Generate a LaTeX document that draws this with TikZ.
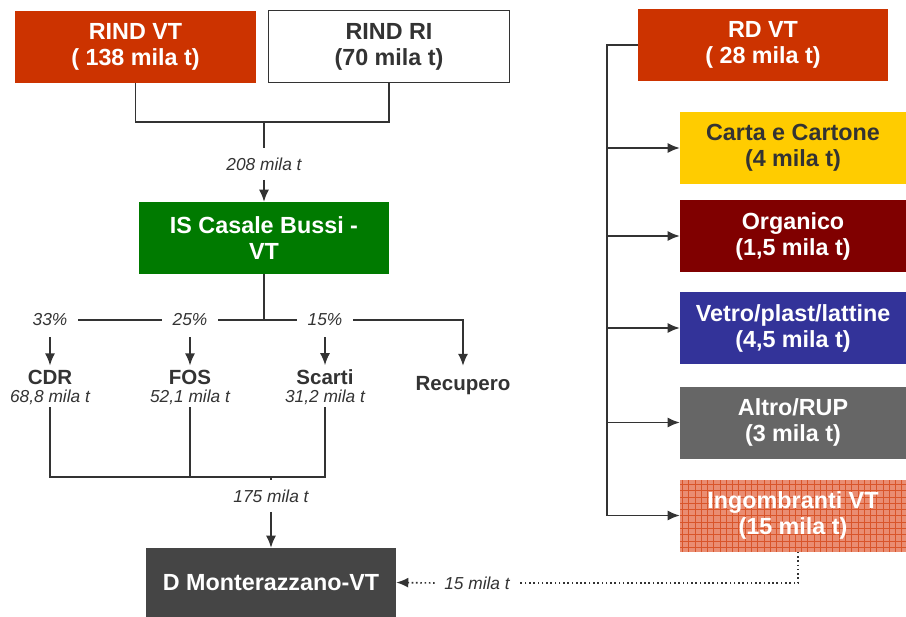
\documentclass[tikz,border=0pt]{standalone}
\usepackage{fontspec}
\setmainfont{Liberation Sans}
\usepackage{tikz}
\usetikzlibrary{positioning}
\usetikzlibrary{arrows.meta}

\definecolor{rdred}{HTML}{CC3300}
\definecolor{isgreen}{HTML}{007A00}
\definecolor{cartayellow}{HTML}{FFCC00}
\definecolor{orgred}{HTML}{800000}
\definecolor{vetroblue}{HTML}{333399}
\definecolor{altrogray}{HTML}{666666}
\definecolor{dmgray}{HTML}{454545}
\definecolor{ingfill}{HTML}{EA8D72}
\definecolor{ingline}{HTML}{D9552A}
\definecolor{darktext}{HTML}{333333}

\tikzset{
	box/.style={rectangle, inner sep=0pt, align=center, minimum width=181pt, minimum height=54pt, text=white, font=\bfseries\fontsize{17.5pt}{19.5pt}\selectfont},
	rdbox/.style={box, minimum width=169.5pt},
	qty/.style={font=\itshape\fontsize{13pt}{15pt}\selectfont, text=darktext, inner xsep=7pt, inner ysep=7pt},
	pct/.style={qty, inner sep=8pt},
	outlet/.style={font=\bfseries\fontsize{15.4pt}{17pt}\selectfont, text=darktext, inner sep=3pt},
	outq/.style={font=\itshape\fontsize{13pt}{15pt}\selectfont, text=darktext, inner sep=2pt},
	conn/.style={draw=darktext, line width=1.2pt},
	thickconn/.style={conn, line width=2.2pt},
	arr/.style={conn, ->},
	dotconn/.style={conn, dotted, line width=1.2pt}
}

\begin{document}
\begin{tikzpicture}[x=0.75pt, y=-0.75pt, >={Latex[length=9pt,width=7.5pt]}]
				\useasboundingbox (0,0) rectangle (906,617);
				
				\node[box, fill=rdred] (rindvt) at (135.5,47) {RIND VT\\( 138 mila t)};
				\node[box, draw=darktext, line width=1.1pt, fill=white, text=darktext] (rindri) at (389,46.5) {RIND RI\\(70 mila t)};
				\node[box, fill=isgreen, minimum width=187pt] (iscb) at (264,238) {IS Casale Bussi -\\VT};
				\node[box, fill=dmgray, minimum width=187.5pt, minimum height=51.75pt] (dmont) at (271,582.5) {D Monterazzano-VT};
				
				\node[box, fill=rdred, minimum width=187.5pt] (rdvt) at (763,45) {RD VT\\( 28 mila t)};
				\node[rdbox, fill=cartayellow, text=darktext] (carta) at (793,148) {Carta e Cartone\\(4 mila t)};
				\node[rdbox, fill=orgred] (organico) at (793,236) {Organico\\(1,5 mila t)};
				\node[rdbox, fill=vetroblue] (vetro) at (793,328) {Vetro/plast/lattine\\(4,5 mila t)};
				\node[rdbox, fill=altrogray] (altro) at (793,422.5) {Altro/RUP\\(3 mila t)};
				\node[rdbox, fill=ingfill, path picture={\draw[ingline, line width=0.45pt, step=4.7pt] (path picture bounding box.south west) grid (path picture bounding box.north east);}] (ingombranti) at (793,515.5) {Ingombranti VT\\(15 mila t)};
				
				\node[qty] (q208) at (264,164) {208 mila t};
				\node[pct] (p33) at (50,320) {33\%};
				\node[pct] (p25) at (190,320) {25\%};
				\node[pct] (p15) at (325,320) {15\%};
				
				\node[outlet] (cdr) at (50,377) {CDR};
				\node[outlet] (fos) at (190,377) {FOS};
				\node[outlet] (scarti) at (325,377) {Scarti};
				\node[outlet, inner ysep=8pt] (recupero) at (463,386) {Recupero};
				\node[outq] (cdrq) at (50,397) {68,8 mila t};
				\node[outq] (fosq) at (190,397) {52,1 mila t};
				\node[outq] (scartiq) at (325,397) {31,2 mila t};
				
				\node[qty] (q175) at (271,496) {175 mila t};
				\node[qty] (q15) at (477,583) {15 mila t};
				
				\coordinate (top) at (264,122);
				\coordinate (bot) at (271,477);
				\coordinate (spine) at (607,45);
				
				\draw[conn] (rindvt.south) |- (top) -| (rindri.south);
				\draw[conn] (top) -- (q208.north);
				\draw[arr] (q208.south) -- (iscb.north);
				
				\draw[thickconn] (iscb.south) -- (iscb.south |- p25);
				\draw[thickconn] (p25.east) -- (p15.west);
				\draw[conn] (p33.east) -- (p25.west);
				\draw[arr] (p15.east) -| (recupero.north);
				\draw[arr] (p33.south) -- (cdr.north);
				\draw[arr] (p25.south) -- (fos.north);
				\draw[arr] (p15.south) -- (scarti.north);
				
				\draw[conn] (cdrq.south) |- (bot) -| (scartiq.south);
				\draw[conn] (fosq.south) -- (fosq.south |- bot);
				\draw[conn] (bot) -- (q175.north);
				\draw[arr] (q175.south) -- (dmont.north);
				
				\draw[conn] (rdvt.west) -- (spine) -- (spine |- ingombranti.west);
				\foreach \n in {carta,organico,vetro,altro,ingombranti}
					\draw[arr] (spine |- \n.west) -- (\n.west);
				
				\draw[dotconn] ([xshift=3.75pt]ingombranti.south) |- (q15.east);
				\draw[dotconn, ->] (q15.west) -- (dmont.east);
			\end{tikzpicture}
\end{document}
